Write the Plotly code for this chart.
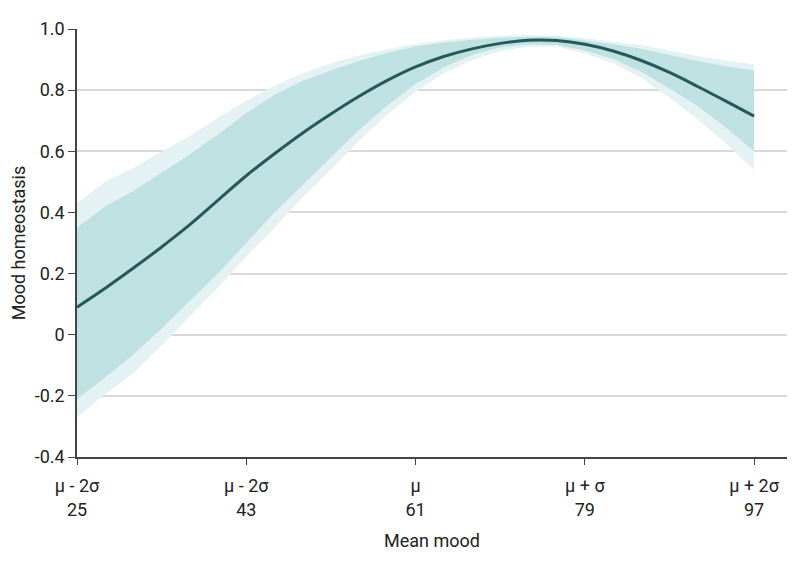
import plotly.graph_objects as go

# Mean mood (x) grid
mean_mood = [25, 28, 31, 34, 37, 40, 43, 46, 49, 52, 55, 58, 61,
             64, 67, 70, 73, 76, 79, 82, 85, 88, 91, 94, 97]

# Fitted mood homeostasis
fit = [0.09, 0.152, 0.218, 0.287, 0.36, 0.44, 0.52, 0.592, 0.66, 0.722, 0.78, 0.832, 0.876,
       0.91, 0.935, 0.953, 0.963, 0.962, 0.95, 0.928, 0.897, 0.858, 0.812, 0.764, 0.715]

# Inner interval
inner_upper = [0.35, 0.42, 0.47, 0.53, 0.59, 0.655, 0.725, 0.785, 0.83, 0.865, 0.895, 0.922, 0.943,
               0.956, 0.965, 0.971, 0.974, 0.974, 0.963, 0.95, 0.935, 0.915, 0.895, 0.878, 0.864]
inner_lower = [-0.21, -0.14, -0.065, 0.02, 0.11, 0.20, 0.30, 0.40, 0.49, 0.58, 0.67, 0.75, 0.82,
               0.875, 0.915, 0.94, 0.95, 0.948, 0.93, 0.902, 0.86, 0.805, 0.748, 0.678, 0.60]

# Outer interval
outer_upper = [0.43, 0.50, 0.545, 0.60, 0.65, 0.71, 0.765, 0.815, 0.855, 0.888, 0.913, 0.934, 0.951,
               0.963, 0.972, 0.978, 0.98, 0.978, 0.97, 0.96, 0.948, 0.93, 0.912, 0.897, 0.885]
outer_lower = [-0.27, -0.195, -0.125, -0.035, 0.06, 0.155, 0.255, 0.35, 0.45, 0.54, 0.635, 0.72, 0.795,
               0.855, 0.898, 0.928, 0.942, 0.943, 0.92, 0.888, 0.84, 0.775, 0.705, 0.625, 0.54]

x_tickvals = [25, 43, 61, 79, 97]
x_ticktext = ["μ - 2σ<br>25", "μ - 2σ<br>43", "μ<br>61", "μ + σ<br>79", "μ + 2σ<br>97"]
y_tickvals = [-0.4, -0.2, 0, 0.2, 0.4, 0.6, 0.8, 1.0]
y_ticktext = ["-0.4", "-0.2", "0", "0.2", "0.4", "0.6", "0.8", "1.0"]

OUTER = "#e5f2f3"
INNER = "#bfe1e2"
LINE = "#26585a"
FONT = "Roboto, Arial, sans-serif"

fig = go.Figure()
fig.add_trace(go.Scatter(x=mean_mood, y=outer_lower, mode="lines", line=dict(width=0),
                         showlegend=False, hoverinfo="skip"))
fig.add_trace(go.Scatter(x=mean_mood, y=outer_upper, mode="lines", line=dict(width=0),
                         fill="tonexty", fillcolor=OUTER, showlegend=False, hoverinfo="skip"))
fig.add_trace(go.Scatter(x=mean_mood, y=inner_lower, mode="lines", line=dict(width=0),
                         showlegend=False, hoverinfo="skip"))
fig.add_trace(go.Scatter(x=mean_mood, y=inner_upper, mode="lines", line=dict(width=0),
                         fill="tonexty", fillcolor=INNER, showlegend=False, hoverinfo="skip"))
fig.add_trace(go.Scatter(x=mean_mood, y=fit, mode="lines", line=dict(color=LINE, width=3, shape="spline"),
                         showlegend=False))

fig.update_layout(
    width=798, height=567,
    margin=dict(l=69, r=19, t=21, b=118, autoexpand=False),
    paper_bgcolor="white", plot_bgcolor="white",
    font=dict(family=FONT, size=18, color="#222"),
    xaxis=dict(range=[25, 100.5], tickvals=x_tickvals, ticktext=x_ticktext,
               showgrid=False, zeroline=False, showline=True, linecolor="#444", linewidth=1.5,
               ticks="outside", ticklen=6, tickcolor="#444", ticklabelstandoff=6,
               title=dict(text="Mean mood", font=dict(size=18), standoff=16)),
    yaxis=dict(range=[-0.4, 1.0], tickvals=y_tickvals, ticktext=y_ticktext,
               showgrid=True, gridcolor="#d9d9d9", gridwidth=1.5, zeroline=False,
               showline=True, linecolor="#444", linewidth=1.5,
               ticks="outside", ticklen=7, tickcolor="#444",
               title=dict(text="Mood homeostasis", font=dict(size=18), standoff=8)),
)

fig.write_html("out.html")
